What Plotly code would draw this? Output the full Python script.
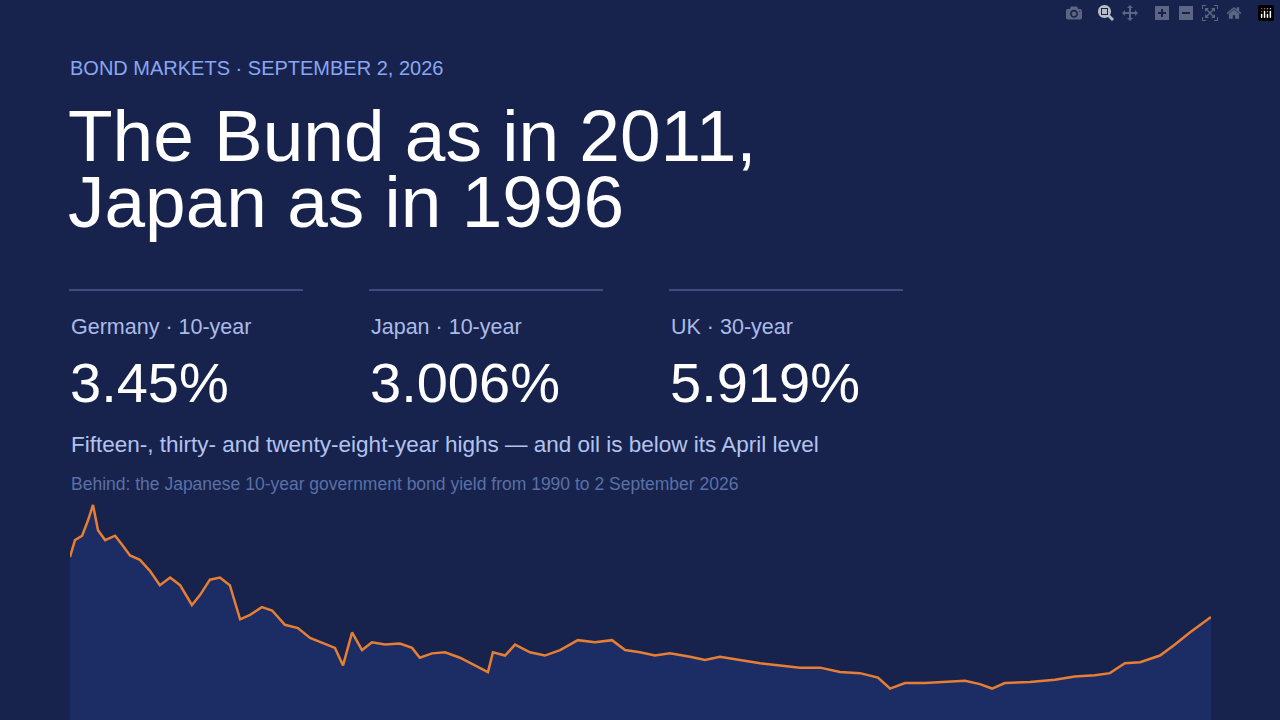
import plotly.graph_objects as go

# JGB 10-year yield (year, %)
years = [1990.0, 1990.16, 1990.39, 1990.58, 1990.74, 1990.9, 1991.13, 1991.45, 1991.67, 1991.93,
         1992.25, 1992.57, 1992.89, 1993.22, 1993.54, 1993.92, 1994.18, 1994.5, 1994.82, 1995.14,
         1995.47, 1995.79, 1996.17, 1996.5, 1996.91, 1997.33, 1997.72, 1998.1, 1998.52, 1998.78,
         1999.07, 1999.39, 1999.71, 2000.13, 2000.61, 2001.0, 2001.25, 2001.64, 2002.06, 2002.54,
         2003.02, 2003.44, 2003.6, 2003.99, 2004.31, 2004.79, 2005.27, 2005.76, 2006.33, 2006.88,
         2007.43, 2007.85, 2008.33, 2008.81, 2009.29, 2009.94, 2010.42, 2010.9, 2011.54, 2012.19,
         2012.83, 2013.47, 2014.12, 2014.76, 2015.4, 2015.98, 2016.37, 2016.85, 2017.49, 2018.14,
         2018.78, 2019.26, 2019.65, 2020.06, 2020.87, 2021.67, 2022.31, 2022.96, 2023.44, 2023.92,
         2024.41, 2025.05, 2025.53, 2026.01, 2026.33, 2026.69]
yields = [5.73, 6.5, 6.7, 7.4, 8.1, 6.95, 6.5, 6.7, 6.3, 5.8,
          5.6, 5.1, 4.45, 4.8, 4.45, 3.55, 4.0, 4.7, 4.8, 4.45,
          2.9, 3.1, 3.45, 3.3, 2.65, 2.5, 2.05, 1.85, 1.6, 0.8,
          2.3, 1.5, 1.85, 1.75, 1.8, 1.6, 1.15, 1.35, 1.4, 1.15,
          0.8, 0.5, 1.4, 1.25, 1.75, 1.4, 1.25, 1.5, 1.95, 1.85,
          1.95, 1.5, 1.4, 1.25, 1.35, 1.2, 1.05, 1.2, 1.05, 0.9,
          0.8, 0.7, 0.7, 0.5, 0.45, 0.25, -0.25, 0.0, 0.0, 0.05,
          0.1, -0.05, -0.25, 0.0, 0.05, 0.15, 0.3, 0.35, 0.45, 0.9,
          0.95, 1.25, 1.75, 2.3, 2.65, 3.006]

card_labels = ["Germany · 10-year", "Japan · 10-year", "UK · 30-year"]
card_values = ["3.45%", "3.006%", "5.919%"]
card_x = [70, 370, 670]

BG = "#17234d"
FILL = "#1b2d64"
FONT = "Liberation Sans, Arial, sans-serif"
Y_MIN, Y_MAX = -1.68, 8.55

fig = go.Figure()
# invisible floor so the fill runs to the bottom edge, not to zero
fig.add_trace(go.Scatter(x=years, y=[Y_MIN] * len(years), mode="lines",
                         line=dict(width=0), hoverinfo="skip"))
fig.add_trace(go.Scatter(x=years, y=yields, mode="lines", fill="tonexty", fillcolor=FILL,
                         line=dict(color="#e67e33", width=2.5), hoverinfo="skip"))

L, R, TOP = 70, 1211, 495
W = R - L
H = 720 - TOP


def px(x):
    return (x - L) / W


def py(y):
    return (720 - y) / H


def txt(x, y, s, size, color):
    fig.add_annotation(x=px(x), y=py(y), xref="paper", yref="paper", text=s,
                       showarrow=False, xanchor="left", yanchor="middle",
                       font=dict(family=FONT, size=size, color=color), align="left")


txt(68, 68, "BOND MARKETS · SEPTEMBER 2, 2026", 20, "#8aa6f2")
txt(66, 135, "The Bund as in 2011,", 73, "#ffffff")
txt(66, 201, "Japan as in 1996", 73, "#ffffff")
for x, lab, val in zip(card_x, card_labels, card_values):
    fig.add_shape(type="line", xref="paper", yref="paper", x0=px(x - 1), x1=px(x + 233),
                  y0=py(290), y1=py(290), line=dict(color="#3e4c80", width=2))
    txt(x - 1, 327, lab, 21.5, "#aabbe8")
    txt(x - 2, 382, val, 56, "#ffffff")
txt(69, 444, "Fifteen-, thirty- and twenty-eight-year highs — and oil is below its April level", 22.5, "#b3c3f0")
txt(69, 484, "Behind: the Japanese 10-year government bond yield from 1990 to 2 September 2026", 17.5, "#5a70a6")

fig.update_layout(width=1280, height=720, margin=dict(l=L, r=1280 - R, t=TOP, b=0),
                  paper_bgcolor=BG, plot_bgcolor=BG, showlegend=False,
                  xaxis=dict(visible=False, range=[1990, 2026.69]),
                  yaxis=dict(visible=False, range=[Y_MIN, Y_MAX]))
fig.write_html("out.html",
               post_script="document.body.style.margin='0';document.body.style.background='#17234d';")
